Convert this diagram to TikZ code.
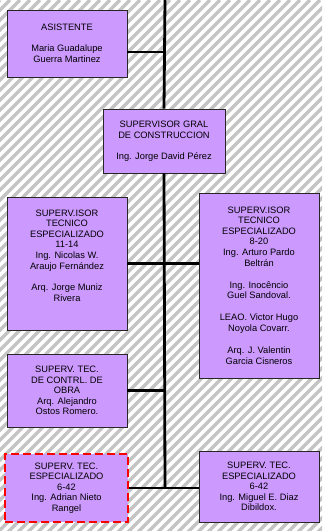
\documentclass[tikz,border=0pt]{standalone}
\usepackage{fontspec}
\setmainfont{Liberation Sans}
\usetikzlibrary{positioning}
\definecolor{lila}{RGB}{204,153,255}
\definecolor{rayas}{RGB}{196,196,196}

\begin{document}
\begin{tikzpicture}[x=1pt, y=-1pt,
						puesto/.style={rectangle, draw=black!85, line width=0.9pt, fill=lila, align=center, inner sep=0pt, font=\fontsize{9.3}{10.6}\selectfont},
						provisional/.style={puesto, draw=red, line width=2.8pt, dash pattern=on 8pt off 4pt},
						linea/.style={line width=2.8pt, black}
					]
					\useasboundingbox (0,0) rectangle (322,531);
					% fondo rayado
					\begin{scope}
					\clip (0,0) rectangle (322,531);
					\fill[white] (0,0) rectangle (322,531);
					\foreach \c in {0,10,...,870}
						\draw[rayas, line width=3.5pt] (\c,0) -- ++(-540,540);
					\end{scope}
					\coordinate (tope) at (165,0);
					\node[puesto, minimum width=120, minimum height=67] (asistente) at (67,43.5) {ASISTENTE\\[10.5pt]Maria Guadalupe\\Guerra Martinez};
					\node[puesto, minimum width=122, minimum height=64] (gral) at (164,141) {SUPERVISOR GRAL\\DE CONSTRUCCION\\[10.5pt]Ing. Jorge David P\'erez};
					\node[puesto, minimum width=120, minimum height=133] (tecnicoA) at (67,263.5) {SUPERV.ISOR\\TECNICO\\ESPECIALIZADO\\11-14\\Ing. Nicolas W.\\Araujo Fern\'andez\\[11pt]Arq. Jorge Muniz\\Rivera\\[5.4pt]\mbox{}};
					\node[puesto, minimum width=120, minimum height=185] (tecnicoB) at (259,285.5) {SUPERV.ISOR\\TECNICO\\ESPECIALIZADO\\8-20\\Ing. Arturo Pardo\\Beltr\'an\\[11.5pt]Ing. Inoc\^encio\\Guel Sandoval.\\[11.5pt]LEAO. Victor Hugo\\Noyola Covarr.\\[11.5pt]Arq. J. Valentin\\Garcia Cisneros};
					\node[puesto, minimum width=120, minimum height=73] (control) at (67,390.5) {SUPERV. TEC.\\DE CONTRL. DE\\OBRA\\Arq. Alejandro\\Ostos Romero.};
					\node[provisional, minimum width=123, minimum height=68] (adrian) at (66.5,488) {SUPERV. TEC.\\ESPECIALIZADO\\6-42\\Ing. Adrian Nieto\\Rangel};
					\node[puesto, minimum width=120, minimum height=71] (miguel) at (259,486.5) {SUPERV. TEC.\\ESPECIALIZADO\\6-42\\Ing. Miguel E. Diaz\\Dibildox.};
					\begin{scope}[linea]
					\draw (tope) -- (gral.north);
					\draw (gral.south) -- (tope |- adrian.east);
					\draw ([yshift=-8.5pt]asistente.east) -- ([yshift=-8.5pt]asistente.east -| tope);
					\draw (tecnicoA.east) -- (tecnicoA.east -| tecnicoB.west);
					\draw (control.east) -- (control.east -| tope);
					\draw (adrian.east) -- (adrian.east -| miguel.west);
					\end{scope}
					\end{tikzpicture}
\end{document}
